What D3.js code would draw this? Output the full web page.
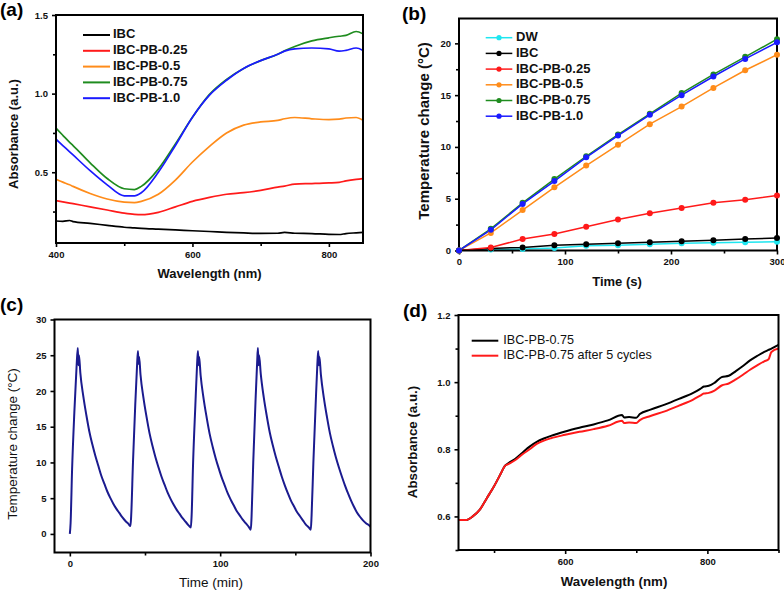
<!DOCTYPE html>
<html><head><meta charset="utf-8">
<script src="https://cdn.jsdelivr.net/npm/d3@7"></script>
<style>
html,body{margin:0;padding:0;background:#fff;}
svg text{font-family:"Liberation Sans",Arial,sans-serif;}
</style></head>
<body>
<svg id="chart" width="784" height="591"></svg>
<script>
// ---------- DATA ----------
// Panel (a): UV-vis absorbance
const aWavelength = [400,410,420,425,450,475,500,515,525,550,575,600,625,650,675,700,725,735,750,775,800,815,825,840,850];
const aIBC      = [0.190,0.188,0.193,0.186,0.175,0.162,0.150,0.146,0.143,0.138,0.133,0.128,0.123,0.118,0.114,0.111,0.112,0.117,0.112,0.110,0.105,0.104,0.110,0.115,0.118];
const aPB025    = [0.320,0.312,0.304,0.300,0.280,0.260,0.240,0.232,0.230,0.245,0.280,0.315,0.340,0.360,0.370,0.385,0.405,0.412,0.425,0.428,0.432,0.436,0.445,0.455,0.460];
const aPB05     = [0.455,0.437,0.420,0.410,0.365,0.330,0.310,0.307,0.315,0.360,0.450,0.565,0.665,0.750,0.800,0.820,0.830,0.840,0.848,0.840,0.835,0.838,0.845,0.848,0.830];
const aPB075    = [0.780,0.735,0.690,0.670,0.560,0.460,0.395,0.390,0.410,0.520,0.680,0.850,0.995,1.090,1.160,1.210,1.250,1.272,1.300,1.335,1.355,1.365,1.370,1.395,1.380];
const aPB10     = [0.710,0.670,0.630,0.610,0.510,0.420,0.350,0.350,0.370,0.500,0.670,0.850,0.990,1.085,1.160,1.210,1.250,1.270,1.285,1.290,1.285,1.270,1.275,1.290,1.275];
const aNames = ["IBC","IBC-PB-0.25","IBC-PB-0.5","IBC-PB-0.75","IBC-PB-1.0"];
const aColors = ["#000000","#ff1a1a","#ff8c1a","#1f8c1f","#1a1aff"];
const aXTicks = [400,600,800];
const aYTicks = [0.5,1.0,1.5];

// Panel (b): photothermal heating
const bTime = [0,30,60,90,120,150,180,210,240,270,300];
const bDW    = [0,0.1,0.15,0.25,0.45,0.5,0.6,0.7,0.75,0.8,0.85];
const bIBC   = [0,0.2,0.3,0.5,0.6,0.7,0.8,0.9,1.0,1.1,1.2];
const bPB025 = [0,0.3,1.1,1.6,2.3,3.0,3.6,4.1,4.6,4.9,5.3];
const bPB05  = [0,1.7,3.9,6.1,8.2,10.2,12.2,13.9,15.7,17.4,18.9];
const bPB075 = [0,2.1,4.6,6.9,9.1,11.2,13.2,15.2,17.0,18.7,20.4];
const bPB10  = [0,2.0,4.5,6.7,9.0,11.1,13.1,15.0,16.8,18.5,20.1];
const bNames = ["DW","IBC","IBC-PB-0.25","IBC-PB-0.5","IBC-PB-0.75","IBC-PB-1.0"];
const bColors = ["#1ee6f0","#000000","#ff1a1a","#ff8c1a","#1f8c1f","#1a1aff"];
const bXTicks = [0,100,200,300];
const bYTicks = [0,5,10,15,20];

// Panel (c): heating/cooling cycles
const cTime = [
  0,0.5,1.5,3,4.5,5.3,5.7,6.1,7,9,11,13,15,17,19,21,23,25,27,29,31,33,35,37,39,40.3,
  40.8,42,43.5,44.7,45.3,45.7,46.1,47,49,51,53,55,57,59,61,63,65,67,69,71,73,75,77,79,80.5,
  81,82,83.5,84.6,85.2,85.6,86,87,89,91,93,95,97,99,101,103,105,107,109,111,113,115,117,119,120.4,
  120.9,122,123.5,124.6,125.1,125.5,125.9,127,129,131,133,135,137,139,141,143,145,147,149,151,153,155,157,159,160.3,
  160.8,162,163.5,164.6,165.2,165.6,166,167,169,171,173,175,177,179,181,183,185,187,189,191,193,195,197,199,200];
const cTemp = [
  0,1.5,9,17,23.5,26.0,23.6,25.0,22.5,19.2,16.6,14.3,12.5,10.9,9.5,8.1,7.0,5.9,5.0,4.2,3.5,2.9,2.3,1.8,1.4,1.1,
  2.5,10,18,23.5,25.6,23.8,24.8,22.3,19.0,16.4,14.1,12.3,10.7,9.3,8.0,6.9,5.8,4.9,4.1,3.4,2.8,2.2,1.7,1.2,0.9,
  2.5,10,18,23.5,25.6,23.6,24.8,22.2,18.9,16.3,14.0,12.2,10.6,9.2,7.9,6.8,5.7,4.8,4.0,3.2,2.6,2.0,1.5,1.0,0.6,
  2.5,10,18.5,24,26.0,23.6,25.0,22.4,19.1,16.5,14.2,12.4,10.8,9.4,8.0,6.8,5.7,4.7,3.9,3.1,2.5,1.9,1.3,0.9,0.6,
  2.5,10,18,23.5,25.6,23.6,24.8,22.3,19.0,16.4,14.1,12.3,10.7,9.3,8.0,6.8,5.7,4.7,3.8,3.0,2.4,1.9,1.5,1.2,1.0];
const cXTicks = [0,100,200];
const cYTicks = [0,5,10,15,20,25,30];

// Panel (d): absorbance before/after cycling
const dWavelength = [450,460,470,480,490,500,510,515,520,530,540,550,560,570,580,600,620,640,660,680,683,690,700,705,720,740,760,780,790,795,802,810,820,830,840,850,860,870,880,886,890,900];
const dBefore = [0.589,0.589,0.600,0.620,0.655,0.690,0.730,0.750,0.758,0.772,0.790,0.808,0.822,0.832,0.840,0.853,0.864,0.874,0.886,0.902,0.895,0.896,0.894,0.905,0.918,0.933,0.950,0.968,0.980,0.987,0.989,0.998,1.015,1.019,1.033,1.048,1.065,1.078,1.090,1.096,1.100,1.111];
const dAfter  = [0.589,0.589,0.600,0.620,0.655,0.690,0.730,0.750,0.756,0.768,0.785,0.800,0.816,0.826,0.833,0.843,0.852,0.860,0.870,0.885,0.878,0.880,0.878,0.887,0.899,0.913,0.930,0.948,0.960,0.966,0.968,0.975,0.990,0.996,1.008,1.022,1.037,1.050,1.062,1.068,1.090,1.100];
const dNames = ["IBC-PB-0.75","IBC-PB-0.75 after 5 cycles"];
const dColors = ["#000000","#ff1a1a"];
const dXTicks = [600,800];
const dYTicks = [0.6,0.8,1.0,1.2];

// ---------- DRAWING ----------
const svg = d3.select("#chart");

function panel(o){
  const g = svg.append("g");
  const x = d3.scaleLinear().domain(o.xDomain).range([o.left,o.right]);
  const y = d3.scaleLinear().domain(o.yDomain).range([o.bottom,o.top]);
  const xMinor = d3.axisBottom(x).tickValues(o.xMinor).tickSize(3).tickFormat("");
  const yMinor = d3.axisLeft(y).tickValues(o.yMinor).tickSize(3).tickFormat("");
  g.append("g").attr("transform",`translate(0,${o.bottom})`).call(xMinor);
  g.append("g").attr("transform",`translate(${o.left},0)`).call(yMinor);
  const xAxis = d3.axisBottom(x).tickValues(o.xTicks).tickSize(4).tickPadding(4).tickFormat(o.xFmt||d3.format("d"));
  const yAxis = d3.axisLeft(y).tickValues(o.yTicks).tickSize(4).tickPadding(4).tickFormat(o.yFmt||d3.format("d"));
  g.append("g").attr("class","xa").attr("transform",`translate(0,${o.bottom})`).call(xAxis);
  g.append("g").attr("class","ya").attr("transform",`translate(${o.left},0)`).call(yAxis);
  g.selectAll(".domain").remove();
  g.selectAll(".tick line").attr("stroke","#000").attr("stroke-width",1.6);
  g.selectAll(".tick text").attr("font-size",9.5).attr("font-weight","bold").attr("fill","#111");
  const cid = "clip"+o.id;
  svg.append("clipPath").attr("id",cid).append("rect")
    .attr("x",o.left).attr("y",o.top).attr("width",o.right-o.left).attr("height",o.bottom-o.top);
  const plot = g.append("g").attr("clip-path",`url(#${cid})`);
  g.append("rect").attr("x",o.left).attr("y",o.top).attr("width",o.right-o.left).attr("height",o.bottom-o.top)
    .attr("fill","none").attr("stroke","#000").attr("stroke-width",2);
  g.append("text").attr("x",o.xTitleX).attr("y",o.xTitleY).attr("text-anchor","middle").attr("dominant-baseline","middle")
    .attr("font-size",o.titleSize).attr("font-weight",o.titleWeight).attr("fill","#111").text(o.xTitle);
  g.append("text").attr("transform",`translate(${o.yTitleX},${o.yTitleY}) rotate(-90)`).attr("text-anchor","middle")
    .attr("dominant-baseline","middle").attr("font-size",o.yTitleSize||o.titleSize).attr("font-weight",o.titleWeight)
    .attr("fill","#111").text(o.yTitle);
  g.append("text").attr("x",o.labX).attr("y",o.labY).attr("dominant-baseline","middle")
    .attr("font-size",19).attr("font-weight","bold").attr("fill","#000").text(o.label);
  return {g,x,y,plot};
}

// Panel (a)
{
  const p = panel({id:"a",left:56,right:363,top:15,bottom:243,xDomain:[400,850],yDomain:[0.05,1.5],
    xTicks:aXTicks,yTicks:aYTicks,xMinor:[500,700],yMinor:[0.25,0.75,1.25],yFmt:d3.format(".1f"),
    xTitle:"Wavelength (nm)",yTitle:"Absorbance (a.u.)",titleSize:13,titleWeight:"bold",
    xTitleX:209.5,xTitleY:275,yTitleX:15,yTitleY:134,label:"(a)",labX:0,labY:11});
  const series=[aIBC,aPB025,aPB05,aPB075,aPB10];
  const line=d3.line().curve(d3.curveMonotoneX).x((d,i)=>p.x(aWavelength[i])).y(d=>p.y(d));
  series.forEach((s,k)=>p.plot.append("path").datum(s).attr("d",line).attr("fill","none")
    .attr("stroke",aColors[k]).attr("stroke-width",1.7));
  aNames.forEach((n,k)=>{
    const yy=35+k*15.8;
    p.g.append("line").attr("x1",83).attr("x2",110).attr("y1",yy).attr("y2",yy).attr("stroke",aColors[k]).attr("stroke-width",2);
    p.g.append("text").attr("x",113).attr("y",yy).attr("dominant-baseline","middle").attr("font-size",13)
      .attr("font-weight","bold").attr("fill","#111").text(n);
  });
}

// Panel (b)
{
  const p = panel({id:"b",left:459,right:777,top:18.5,bottom:250.5,xDomain:[0,300],yDomain:[0,22.4],
    xTicks:bXTicks,yTicks:bYTicks,xMinor:[50,150,250],yMinor:[2.5,7.5,12.5,17.5],
    xTitle:"Time (s)",yTitle:"Temperature change (°C)",titleSize:13,yTitleSize:15,titleWeight:"bold",
    xTitleX:617,xTitleY:283,yTitleX:425,yTitleY:131,label:"(b)",labX:402,labY:15});
  const series=[bDW,bIBC,bPB025,bPB05,bPB075,bPB10];
  const line=d3.line().x((d,i)=>p.x(bTime[i])).y(d=>p.y(d));
  series.forEach((s,k)=>{
    p.plot.append("path").datum(s).attr("d",line).attr("fill","none").attr("stroke",bColors[k]).attr("stroke-width",1.5);
  });
  series.forEach((s,k)=>{
    p.g.selectAll(null).data(s).enter().append("circle").attr("cx",(d,i)=>p.x(bTime[i])).attr("cy",d=>p.y(d))
      .attr("r",3).attr("fill",bColors[k]);
  });
  bNames.forEach((n,k)=>{
    const yy=37.7+k*15.7;
    p.g.append("line").attr("x1",485.7).attr("x2",512.3).attr("y1",yy).attr("y2",yy).attr("stroke",bColors[k]).attr("stroke-width",1.5);
    p.g.append("circle").attr("cx",499).attr("cy",yy).attr("r",2.6).attr("fill",bColors[k]);
    p.g.append("text").attr("x",516).attr("y",yy).attr("dominant-baseline","middle").attr("font-size",13)
      .attr("font-weight","bold").attr("fill","#111").text(n);
  });
}

// Panel (c)
{
  const p = panel({id:"c",left:54.5,right:370.5,top:319.5,bottom:552.5,xDomain:[-10.2,200],yDomain:[-2.6,30],
    xTicks:cXTicks,yTicks:cYTicks,xMinor:[50,150],yMinor:[],
    xTitle:"Time (min)",yTitle:"Temperature change (°C)",titleSize:13.5,titleWeight:"normal",
    xTitleX:211,xTitleY:583,yTitleX:13,yTitleY:444,label:"(c)",labX:0,labY:306});
  const line=d3.line().curve(d3.curveMonotoneX).x((d,i)=>p.x(cTime[i])).y(d=>p.y(d));
  p.plot.append("path").datum(cTemp).attr("d",line).attr("fill","none").attr("stroke","#1b1b8f")
    .attr("stroke-width",2).attr("stroke-linejoin","round");
}

// Panel (d)
{
  const p = panel({id:"d",left:458.5,right:778.5,top:315,bottom:550,xDomain:[450,900],yDomain:[0.5,1.2],
    xTicks:dXTicks,yTicks:dYTicks,xMinor:[500,700,900],yMinor:[0.5,0.7,0.9,1.1],yFmt:d3.format(".1f"),
    xTitle:"Wavelength (nm)",yTitle:"Absorbance (a.u.)",titleSize:13.3,titleWeight:"bold",
    xTitleX:614,xTitleY:582.7,yTitleX:413,yTitleY:442,label:"(d)",labX:403,labY:312});
  const line=d3.line().curve(d3.curveMonotoneX).x((d,i)=>p.x(dWavelength[i])).y(d=>p.y(d));
  [dBefore,dAfter].forEach((s,k)=>p.plot.append("path").datum(s).attr("d",line).attr("fill","none")
    .attr("stroke",dColors[k]).attr("stroke-width",2));
  dNames.forEach((n,k)=>{
    const yy=340.7+k*15;
    p.g.append("line").attr("x1",471.7).attr("x2",498.3).attr("y1",yy).attr("y2",yy).attr("stroke",dColors[k]).attr("stroke-width",2);
    p.g.append("text").attr("x",503.3).attr("y",yy).attr("dominant-baseline","middle").attr("font-size",12.6)
      .attr("fill","#111").text(n);
  });
}
</script>
</body></html>
